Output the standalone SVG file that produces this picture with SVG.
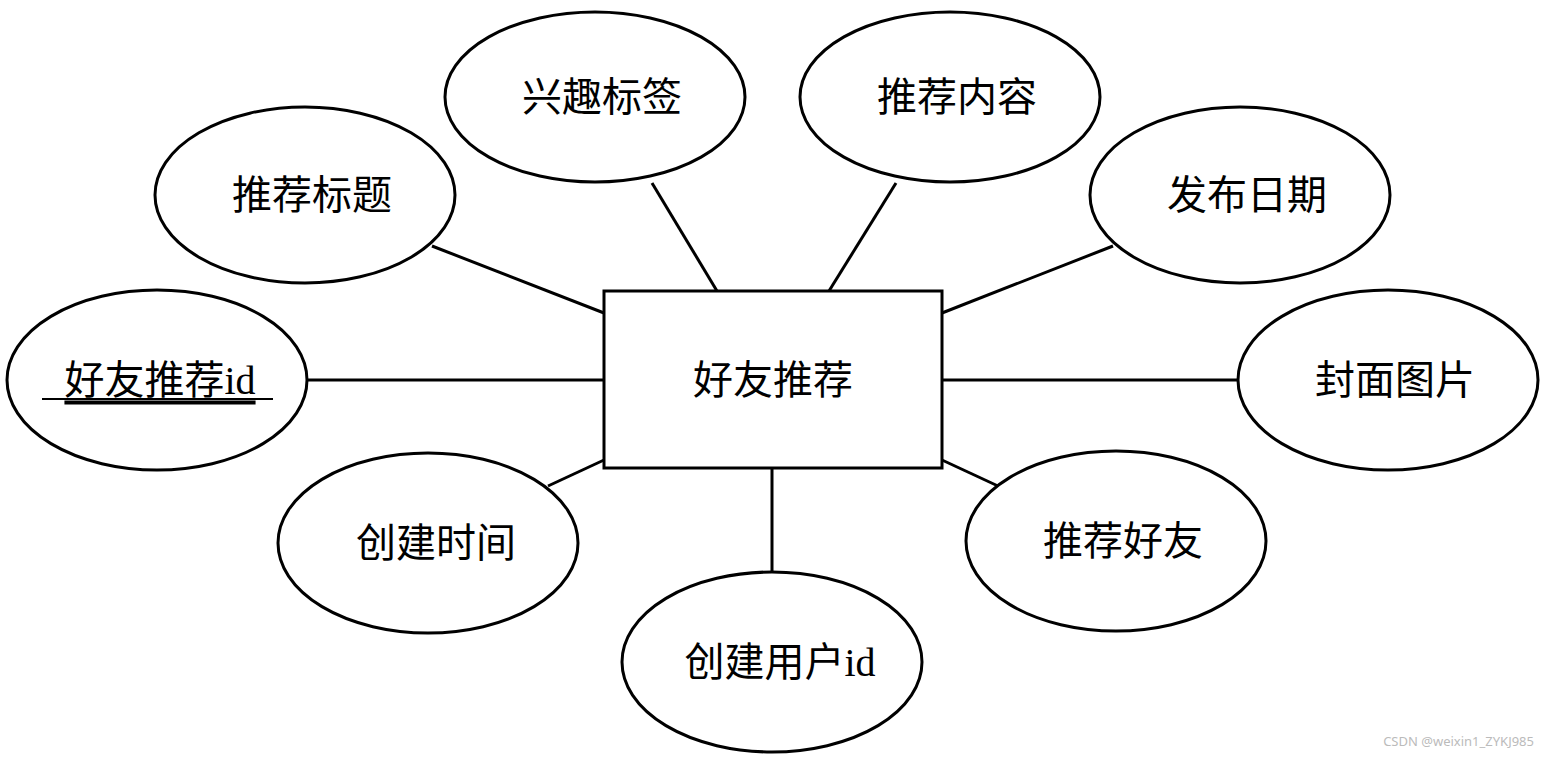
<svg xmlns="http://www.w3.org/2000/svg" width="1544" height="757" viewBox="0 0 1544 757">
<style>
.n{fill:#fff;stroke:#000;stroke-width:3}
.t{font-family:"Liberation Serif","Noto Sans CJK SC",serif;font-size:40px;text-anchor:middle;dominant-baseline:central;fill:#000}
.c line{stroke:#000;stroke-width:3}
</style>
<rect width="1544" height="757" fill="#fff"/>
<g class="c">
<line x1="432" y1="246" x2="604" y2="313"/>
<line x1="652" y1="183" x2="717" y2="291"/>
<line x1="896" y1="183" x2="829" y2="291"/>
<line x1="1113" y1="246" x2="942" y2="313"/>
<line x1="307" y1="380" x2="604" y2="380"/>
<line x1="942" y1="380" x2="1238" y2="380"/>
<line x1="548" y1="486" x2="604" y2="460"/>
<line x1="942" y1="460" x2="998" y2="486"/>
<line x1="772" y1="468" x2="772" y2="572"/>
</g>
<g id="main"><rect class="n" x="604" y="291" width="338" height="177"/><text class="t" x="773" y="380">好友推荐</text></g>
<g id="a1"><ellipse class="n" cx="305" cy="195" rx="150" ry="88"/><text class="t" x="312" y="195">推荐标题</text></g>
<g id="a2"><ellipse class="n" cx="595" cy="97" rx="150" ry="85"/><text class="t" x="602" y="97">兴趣标签</text></g>
<g id="a3"><ellipse class="n" cx="950" cy="97" rx="150" ry="85"/><text class="t" x="957" y="97">推荐内容</text></g>
<g id="a4"><ellipse class="n" cx="1240" cy="195" rx="150" ry="88"/><text class="t" x="1247" y="195">发布日期</text></g>
<g id="a5"><ellipse class="n" cx="157" cy="380" rx="150" ry="90"/><text class="t" x="160" y="380" text-decoration="underline">好友推荐id</text><line x1="42" y1="399" x2="273" y2="399" stroke="#000" stroke-width="2"/></g>
<g id="a6"><ellipse class="n" cx="1388" cy="380" rx="150" ry="90"/><text class="t" x="1395" y="380">封面图片</text></g>
<g id="a7"><ellipse class="n" cx="428" cy="543" rx="150" ry="90"/><text class="t" x="436" y="543">创建时间</text></g>
<g id="a8"><ellipse class="n" cx="1116" cy="541" rx="150" ry="90"/><text class="t" x="1123" y="541">推荐好友</text></g>
<g id="a9"><ellipse class="n" cx="772" cy="662" rx="150" ry="90"/><text class="t" x="780" y="662">创建用户id</text></g>
<text x="1534" y="746" font-family="Noto Sans,sans-serif" font-size="13" fill="#bbb" text-anchor="end">CSDN @weixin1_ZYKJ985</text>
</svg>
